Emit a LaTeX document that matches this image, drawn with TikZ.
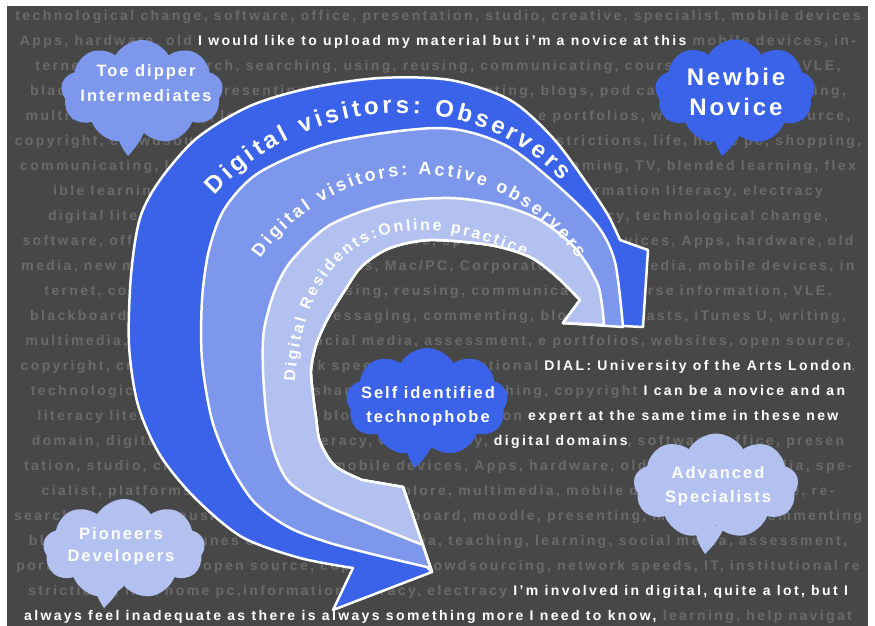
\documentclass[tikz,border=0pt]{standalone}
\usepackage{fontspec}
\setmainfont{Liberation Sans}
\newfontfamily\spaced[LetterSpace=12]{Liberation Sans}
\newfontfamily\wallfont[LetterSpace=17]{Liberation Sans}
\usetikzlibrary{calc,decorations.text,shapes.symbols}

\definecolor{wallbg}{HTML}{474747}
\definecolor{wallword}{HTML}{6A6A6A}
\definecolor{darkblue}{HTML}{3A63E9}
\definecolor{midblue}{HTML}{7D97EC}
\definecolor{paleblue}{HTML}{B3C1F0}

\newcommand{\spoken}[1]{\textcolor{white}{#1}}

\tikzset{
  words/.style={font=\wallfont\bfseries\fontsize{14}{14}\selectfont,text=wallword,anchor=base,inner sep=0pt},
  band/.style={draw=white,line width=2.5pt,line join=round},   % stripe of the arrow
  puff/.style={cloud,cloud puffs=9,cloud puff arc=120,aspect=1.7,inner sep=0pt,draw=none},
  saying/.style={font=\spaced\bfseries\fontsize{16.5}{25}\selectfont,text=white,align=center},
  bandtext/.style={decorate,decoration={text along path,text align=center,text={#1}}},
}

\begin{document}
\begin{tikzpicture}[x=1pt,y=-1pt]
  \useasboundingbox (0,0) rectangle (875,626);
  \fill[wallbg] (7,6) rectangle (868,626);

  % word wall
  \foreach \row [count=\i] in {
    {technological change, software, office, presentation, studio, creative, specialist, mobile devices},
    {Apps, hardware, old \spoken{I would like to upload my material but i’m a novice at this} mobile devices, in-},
    {ternet, cloud, research, searching, using, reusing, communicating, course information, VLE,},
    {blackboard, moodle, presenting, messaging, commenting, blogs, pod casts, iTunes U, writing,},
    {multimedia, teaching, learning, social media, assessment, e portfolios, websites, open source,},
    {copyright, crowdsourcing, network speeds, IT, institutional restrictions, life, home pc, shopping,},
    {communicating, learning, help navigating, social networking, gaming, TV, blended learning, flex},
    {ible learning, online courses, distance learning, e-safety, information literacy, electracy},
    {digital literacy, media literacy, network literacy, computer literacy, technological change,},
    {software, office, presentation, studio, creative, specialist, mobile devices, Apps, hardware, old},
    {media, new media, smart phones, tablets, Mac/PC, Corporate IT, social media, mobile devices, in},
    {ternet, collaboration, searching, using, reusing, communicating, course information, VLE,},
    {blackboard, moodle, presenting, messaging, commenting, blogs, pod casts, iTunes U, writing,},
    {multimedia, teaching, learning, social media, assessment, e portfolios, websites, open source,},
    {copyright, crowdsourcing, network speeds, IT, institutional \spoken{DIAL: University of the Arts London},},
    {technological change, learning, sharing, help, researching, copyright \spoken{I can be a novice and an}},
    {literacy literacy, online tagging, blogging, presentation \spoken{expert at the same time in these new}},
    {domain, digital literacy, media literacy, web literacy, \spoken{digital domains}, software, office, presen},
    {tation, studio, creative, specialist, mobile devices, Apps, hardware, old media, new media, spe-},
    {cialist, platforms, software, hardware, explore, multimedia, mobile devices, art college, re-},
    {searching, using, reusing, researching, blackboard, moodle, presenting, messaging, commenting},
    {blogs, pod casts, iTunes U, writing, multimedia, teaching, learning, social media, assessment,},
    {portfolios, websites, open source, copyright, crowdsourcing, network speeds, IT, institutional re},
    {strictions, life, home pc,information literacy, electracy \spoken{I’m involved in digital, quite a lot, but I}},
    {\spoken{always feel inadequate as there is always something more I need to know,} learning, help navigat}
  }
    \node[words] (row\i) at (438,{25*\i-4.5}) {\row};

  % outer stripe
  \filldraw[band,fill=darkblue] plot[smooth] coordinates {(353,568) (300,558) (242,537) (195,498) (160,455)
      (138,405) (129,345) (131,275) (140,218) (160,180) (197,138) (250,106) (310,88) (380,78) (450,80)
      (510,100) (553,138) (588,185) (608,215) (620,240)}
    -- (648,250) -- (643,327) -- (563,323)
    -- plot[smooth] coordinates {(580,300) (557,277) (530,257) (490,245) (430,240) (390,248) (362,266)
      (345,290) (328,318) (316,345) (311,370) (313,395) (316,418) (320,442) (335,466) (362,480)}
    -- (403,487) -- (432,572) -- (333,610) -- cycle;
  % middle stripe
  \filldraw[band,fill=midblue] (432,572)
    -- plot[smooth] coordinates {(427,567) (380,556) (330,543) (290,528) (255,503) (230,465) (212,420)
      (202,360) (202,300) (209,250) (225,208) (260,172) (333,142) (440,128) (505,145) (557,185)
      (597,225) (615,262) (623,327)}
    -- (563,323)
    -- plot[smooth] coordinates {(580,300) (557,277) (530,257) (490,245) (430,240) (390,248) (362,266)
      (345,290) (328,318) (316,345) (311,370) (313,395) (316,418) (320,442) (335,466) (362,480)}
    -- (403,487) -- cycle;
  % inner stripe
  \filldraw[band,fill=paleblue] (432,572)
    -- plot[smooth] coordinates {(423,545) (370,524) (325,505) (290,483) (275,455) (267,420) (263,370)
      (264,330) (275,290) (292,260) (330,225) (390,203) (450,198) (500,205) (540,220) (575,248)
      (598,285) (604,325)}
    -- (563,323)
    -- plot[smooth] coordinates {(580,300) (557,277) (530,257) (490,245) (430,240) (390,248) (362,266)
      (345,290) (328,318) (316,345) (311,370) (313,395) (316,418) (320,442) (335,466) (362,480)}
    -- (403,487) -- cycle;

  % stripe labels
  \path[bandtext={|\color{white}\bfseries\fontsize{24}{24}\selectfont\kern3.5pt|Digital visitors: Observers}]
    (198,215) .. controls (291,91) and (483,74) .. (576,198);
  \path[bandtext={|\color{white}\bfseries\fontsize{18}{18}\selectfont\kern2.8pt|Digital visitors: Active observers}]
    (246,280) .. controls (326,141) and (510,139) .. (590,278);
  \path[bandtext={|\color{white}\bfseries\fontsize{16}{16}\selectfont\kern2.4pt|Digital Residents:Online practice}]
    (294,410) .. controls (294,242) and (390,185) .. (548,268);

  % clouds
  \coordinate (toetip) at (128,156);
  \fill[midblue] (toetip) to[bend left=15] ++(-12,-28) -- ++(30,0) to[bend left=10] (toetip);
  \node[puff,fill=midblue,minimum width=162pt,minimum height=104pt] (toe) at (142,92) {};
  \node[saying] (toetext) at (146,83) {Toe dipper\\Intermediates};

  \coordinate (newtip) at (722,156);
  \fill[darkblue] (newtip) to[bend left=15] ++(-8,-28) -- ++(30,0) to[bend left=10] (newtip);
  \node[puff,fill=darkblue,minimum width=160pt,minimum height=105pt] (newbie) at (735,92) {};
  \node[saying,font=\spaced\bfseries\fontsize{24}{30}\selectfont] (newbietext) at (736,92) {Newbie\\Novice};

  \coordinate (techtip) at (415,468);
  \fill[darkblue] (techtip) to[bend left=15] ++(-10,-28) -- ++(30,0) to[bend left=10] (techtip);
  \node[puff,fill=darkblue,minimum width=162pt,minimum height=108pt] (techno) at (427,402) {};
  \node[saying,font=\spaced\bfseries\fontsize{16.5}{24}\selectfont] (technotext) at (428,406) {Self identified\\technophobe};

  \coordinate (advtip) at (705,554);
  \fill[paleblue] (advtip) to[bend left=15] ++(-10,-28) -- ++(30,0) to[bend left=10] (advtip);
  \node[puff,fill=paleblue,minimum width=165pt,minimum height=105pt] (adv) at (716,486) {};
  \node[saying,font=\spaced\bfseries\fontsize{16.5}{24}\selectfont] (advtext) at (718,486) {Advanced\\Specialists};

  \coordinate (piotip) at (104,608);
  \fill[paleblue] (piotip) to[bend left=15] ++(-10,-28) -- ++(30,0) to[bend left=10] (piotip);
  \node[puff,fill=paleblue,minimum width=162pt,minimum height=100pt] (pio) at (124,549) {};
  \node[saying,font=\spaced\bfseries\fontsize{16.5}{22}\selectfont] (piotext) at (121,546) {Pioneers\\Developers};
\end{tikzpicture}
\end{document}
